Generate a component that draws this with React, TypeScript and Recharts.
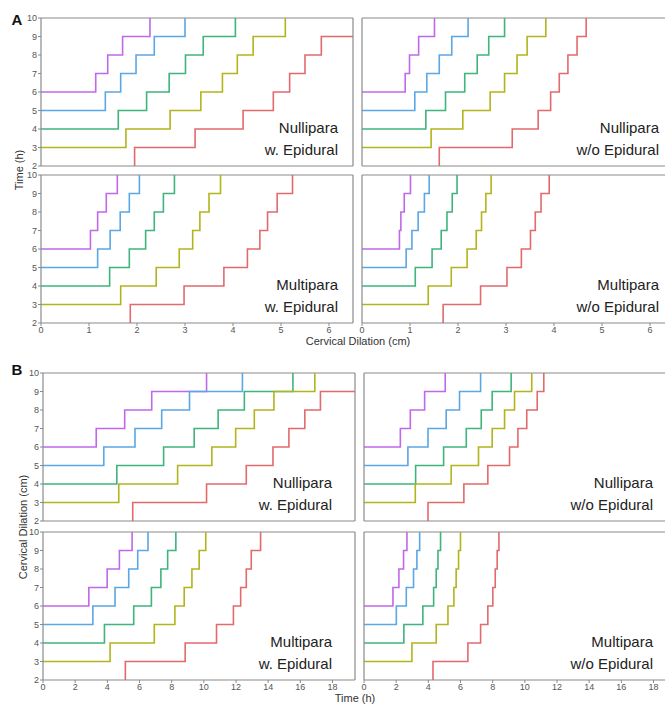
import React from "react";
import { LineChart, Line, XAxis, YAxis, ReferenceLine } from "recharts";

// order of series in every panel: purple, blue, green, yellow, red
const LEVELS = [6, 5, 4, 3, 2];
const COLORS = ["#bf68ea", "#5ba6e4", "#3fb47c", "#b2b41c", "#e26a6c"];
const Y_TICKS = [2, 3, 4, 5, 6, 7, 8, 9, 10];
const A_TICKS = [0, 1, 2, 3, 4, 5, 6];
const B_TICKS = [0, 2, 4, 6, 8, 10, 12, 14, 16, 18];
const A_MAX = 6.5;
const B_MAX = 19.4;

// Panel A: x value at which each line steps up one level
const aNulliEpi = [
  [1.14, 1.39, 1.7, 2.27],
  [1.34, 1.66, 1.98, 2.36, 3.0],
  [1.61, 2.2, 2.67, 3.01, 3.38, 4.05],
  [1.77, 2.69, 3.33, 3.78, 4.09, 4.42, 5.09],
  [1.95, 3.21, 4.21, 4.84, 5.18, 5.5, 5.84],
];
const aNulliNoEpi = [
  [0.9, 0.99, 1.18, 1.51],
  [1.1, 1.35, 1.61, 1.87, 2.21],
  [1.33, 1.74, 2.14, 2.4, 2.64, 2.97],
  [1.44, 2.1, 2.67, 2.97, 3.23, 3.44, 3.83],
  [1.61, 3.13, 3.67, 3.93, 4.11, 4.29, 4.48, 4.67],
];
const aMultiEpi = [
  [1.03, 1.18, 1.36, 1.59],
  [1.18, 1.44, 1.65, 1.84, 2.05],
  [1.43, 1.84, 2.18, 2.36, 2.55, 2.78],
  [1.66, 2.4, 2.88, 3.16, 3.31, 3.5, 3.74],
  [1.86, 2.98, 3.81, 4.3, 4.56, 4.72, 4.92, 5.24],
];
const aMultiNoEpi = [
  [0.78, 0.81, 0.88, 1.01],
  [0.92, 1.04, 1.17, 1.3, 1.4],
  [1.11, 1.46, 1.65, 1.77, 1.88, 1.98],
  [1.38, 1.86, 2.19, 2.38, 2.49, 2.58, 2.69],
  [1.69, 2.47, 3.02, 3.32, 3.51, 3.61, 3.73, 3.9],
];

// Panel B
const bNulliEpi = [
  [3.31, 5.08, 6.76, 10.17],
  [3.78, 5.72, 7.38, 9.11, 12.4],
  [4.59, 7.5, 9.4, 10.89, 12.52, 15.54],
  [4.71, 8.37, 10.5, 11.98, 13.14, 14.36, 16.9],
  [5.58, 10.17, 12.64, 14.3, 15.29, 16.28, 17.25],
];
const bNulliNoEpi = [
  [2.26, 2.88, 3.77, 5.05],
  [2.73, 3.98, 5.11, 5.94, 7.25],
  [3.21, 4.95, 6.36, 7.29, 7.97, 9.15],
  [3.19, 5.42, 7.12, 7.97, 8.74, 9.36, 10.43],
  [3.98, 6.21, 7.7, 9.05, 9.57, 10.12, 10.77, 11.18],
];
const bMultiEpi = [
  [2.85, 3.99, 4.75, 5.54],
  [3.1, 4.48, 5.33, 5.89, 6.53],
  [3.82, 5.64, 6.74, 7.33, 7.75, 8.26],
  [4.17, 6.92, 8.2, 8.78, 9.26, 9.71, 10.12],
  [5.12, 8.84, 10.79, 11.84, 12.29, 12.64, 12.95, 13.53],
];
const bMultiNoEpi = [
  [1.8, 2.17, 2.46, 2.67],
  [2.01, 2.63, 3.08, 3.29, 3.46],
  [2.48, 3.66, 4.33, 4.49, 4.6, 4.76],
  [2.98, 4.49, 5.22, 5.59, 5.73, 5.88, 6.0],
  [4.29, 6.46, 7.25, 7.7, 8.01, 8.16, 8.28, 8.39],
];

const FONT = '"Liberation Sans", Arial, sans-serif';
const AXIS = "#8a8a8a";
const PLOT_W = 312;
const PLOT_H = 148;
const M_TOP = 4;
const M_RIGHT = 4;

type Pt = { x: number; y: number };

// stepAfter: horizontal to the next x, then up one level
function stepPoints(start: number, steps: number[], xMax: number): Pt[] {
  const pts: Pt[] = [{ x: start === 2 ? steps[0] : 0, y: start }];
  steps.forEach((s, i) => pts.push({ x: s, y: start + i + 1 }));
  const last = start + steps.length;
  if (last < 10) pts.push({ x: xMax, y: last });
  return pts;
}

interface PanelProps {
  left: number;
  top: number;
  series: number[][];
  xMax: number;
  xTicks: number[];
  showX: boolean;
  showY: boolean;
  line1: string;
  line2: string;
  inset: number;
}

const Panel = ({ left, top, series, xMax, xTicks, showX, showY, line1, line2, inset }: PanelProps) => {
  // a little spare room even where ticks are hidden, so neighbour labels are not clipped
  const yw = showY ? 26 : 8;
  const xh = showX ? 16 : 7;
  const tickStyle = { fontSize: 9, fill: "#555", fontFamily: FONT };
  return (
    <>
      <div style={{ position: "absolute", left: left - yw, top: top - M_TOP }}>
        <LineChart
          width={yw + PLOT_W + M_RIGHT}
          height={M_TOP + PLOT_H + xh}
          margin={{ top: M_TOP, right: M_RIGHT, bottom: 0, left: 0 }}
        >
          <XAxis
            type="number"
            dataKey="x"
            domain={[0, xMax]}
            ticks={xTicks}
            interval={0}
            allowDataOverflow
            height={xh}
            tick={showX ? tickStyle : false}
            tickLine={showX ? { stroke: AXIS } : false}
            tickSize={3}
            tickMargin={1}
            axisLine={{ stroke: AXIS, strokeWidth: 1.2 }}
          />
          <YAxis
            type="number"
            domain={[2, 10]}
            ticks={Y_TICKS}
            interval={0}
            allowDataOverflow
            width={yw}
            tick={showY ? tickStyle : false}
            tickLine={showY ? { stroke: AXIS } : false}
            tickSize={3}
            tickMargin={1}
            axisLine={{ stroke: AXIS, strokeWidth: 1.2 }}
          />
          <ReferenceLine y={10} stroke={AXIS} strokeWidth={1.2} />
          <ReferenceLine x={xMax} stroke={AXIS} strokeWidth={1.2} />
          {series.map((steps, i) => (
            <Line
              key={i}
              data={stepPoints(LEVELS[i], steps, xMax)}
              dataKey="y"
              type="stepAfter"
              stroke={COLORS[i]}
              strokeWidth={1.6}
              dot={false}
              activeDot={false}
              isAnimationActive={false}
            />
          ))}
        </LineChart>
      </div>
      <div
        style={{
          position: "absolute",
          right: 665 - (left + PLOT_W - inset),
          top: top + PLOT_H - 49,
          textAlign: "right",
          fontFamily: FONT,
          fontSize: 15,
          lineHeight: "22px",
          color: "#222",
          whiteSpace: "nowrap",
        }}
      >
        <div>{line1}</div>
        <div>{line2}</div>
      </div>
    </>
  );
};

const label = (text: string, x: number, y: number, rotate = false, extra: React.CSSProperties = {}) => (
  <div
    style={{
      position: "absolute",
      left: x,
      top: y,
      transform: `translate(-50%, -50%)${rotate ? " rotate(-90deg)" : ""}`,
      fontFamily: FONT,
      fontSize: 11,
      color: "#333",
      whiteSpace: "nowrap",
      ...extra,
    }}
  >
    {text}
  </div>
);

export default function App() {
  return (
    <div
      style={{
        position: "absolute",
        left: 0,
        top: 0,
        width: 665,
        height: 704,
        overflow: "hidden",
        background: "#fff",
      }}
    >
      <Panel left={41} top={18} series={aNulliEpi} xMax={A_MAX} xTicks={A_TICKS} showX={false} showY line1="Nullipara" line2="w. Epidural" inset={15} />
      <Panel left={362} top={18} series={aNulliNoEpi} xMax={A_MAX} xTicks={A_TICKS} showX={false} showY={false} line1="Nullipara" line2="w/o Epidural" inset={15} />
      <Panel left={41} top={175} series={aMultiEpi} xMax={A_MAX} xTicks={A_TICKS} showX showY line1="Multipara" line2="w. Epidural" inset={15} />
      <Panel left={362} top={175} series={aMultiNoEpi} xMax={A_MAX} xTicks={A_TICKS} showX showY={false} line1="Multipara" line2="w/o Epidural" inset={15} />

      <Panel left={43} top={373} series={bNulliEpi} xMax={B_MAX} xTicks={B_TICKS} showX={false} showY line1="Nullipara" line2="w. Epidural" inset={23} />
      <Panel left={364} top={373} series={bNulliNoEpi} xMax={B_MAX} xTicks={B_TICKS} showX={false} showY={false} line1="Nullipara" line2="w/o Epidural" inset={23} />
      <Panel left={43} top={532} series={bMultiEpi} xMax={B_MAX} xTicks={B_TICKS} showX showY line1="Multipara" line2="w. Epidural" inset={23} />
      <Panel left={364} top={532} series={bMultiNoEpi} xMax={B_MAX} xTicks={B_TICKS} showX showY={false} line1="Multipara" line2="w/o Epidural" inset={23} />

      {label("A", 17, 19, false, { fontSize: 15, fontWeight: "bold", color: "#111" })}
      {label("B", 17, 369, false, { fontSize: 15, fontWeight: "bold", color: "#111" })}
      {label("Time (h)", 19, 170, true)}
      {label("Cervical Dilation (cm)", 358, 341)}
      {label("Cervical Dilation (cm)", 23, 527, true)}
      {label("Time (h)", 355, 698)}
    </div>
  );
}
